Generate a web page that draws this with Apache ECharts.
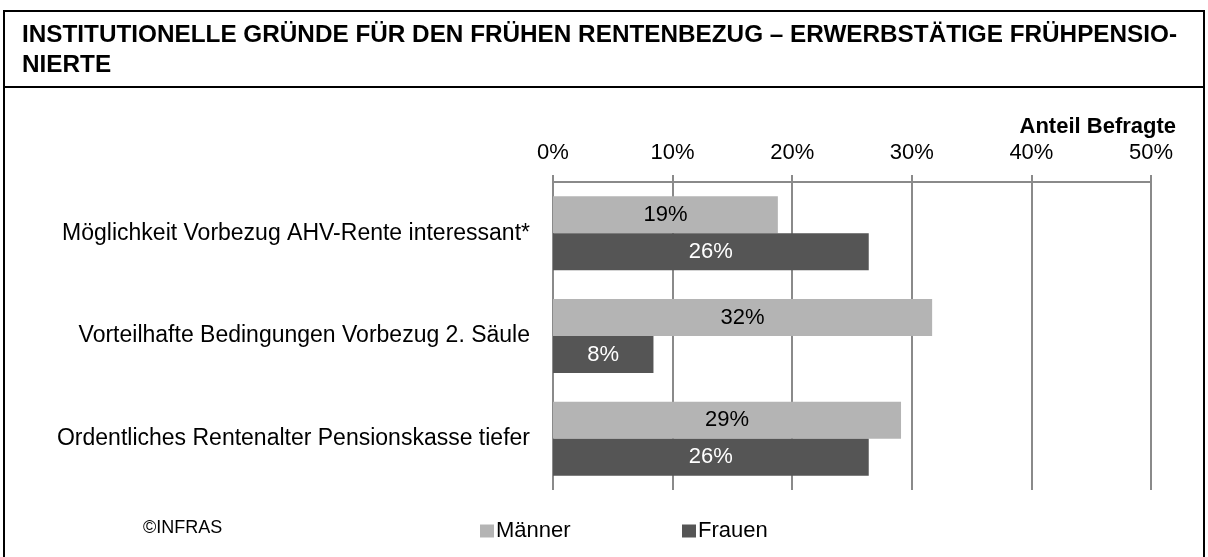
<!DOCTYPE html>
<html><head><meta charset="utf-8">
<script src="https://cdn.jsdelivr.net/npm/echarts@6/dist/echarts.min.js"></script>
<style>html,body{margin:0;padding:0;background:#fff}#c{width:1208px;height:557px}</style>
</head><body><div id="c"></div>
<script>
const categories = ['Möglichkeit Vorbezug AHV-Rente interessant*', 'Vorteilhafte Bedingungen Vorbezug 2. Säule', 'Ordentliches Rentenalter Pensionskasse tiefer'];
const maenner = [18.8, 31.7, 29.1];
const frauen = [26.4, 8.4, 26.4];
const seriesNames = ['Männer', 'Frauen'];
const titleLines = ['INSTITUTIONELLE GRÜNDE FÜR DEN FRÜHEN RENTENBEZUG – ERWERBSTÄTIGE FRÜHPENSIO-', 'NIERTE'];
const axisName = 'Anteil Befragte';
const source = '©INFRAS';

const font = 'Liberation Sans, Arial, sans-serif';
const chart = echarts.init(document.getElementById('c'));
chart.setOption({
  animation: false,
  textStyle: {fontFamily: font},
  graphic: [
    {type: 'rect', shape: {x: 4, y: 11, width: 1200, height: 560}, style: {fill: 'none', stroke: '#000', lineWidth: 2}, silent: true},
    {type: 'line', shape: {x1: 4, y1: 87, x2: 1204, y2: 87}, style: {stroke: '#000', lineWidth: 2}},
    {type: 'text', x: 22, y: 35, style: {text: titleLines[0], font: 'bold 24.3px ' + font, fill: '#000', verticalAlign: 'middle'}},
    {type: 'text', x: 22, y: 65, style: {text: titleLines[1], font: 'bold 24.3px ' + font, fill: '#000', verticalAlign: 'middle'}},
    {type: 'text', x: 143, y: 528, style: {text: source, font: '18px ' + font, fill: '#000', verticalAlign: 'middle'}},
    {type: 'text', x: 1176, y: 127, style: {text: axisName, font: 'bold 22px ' + font, fill: '#000', align: 'right', verticalAlign: 'middle'}}
  ],
  legend: [
    {data: [seriesNames[0]], left: 475, top: 515, itemWidth: 14, itemHeight: 13, icon: 'rect', itemGap: 4, textStyle: {fontSize: 22, color: '#000', padding: [0, 0, 0, -3]}},
    {data: [seriesNames[1]], left: 677, top: 515, itemWidth: 14, itemHeight: 13, icon: 'rect', itemGap: 4, textStyle: {fontSize: 22, color: '#000', padding: [0, 0, 0, -3]}}
  ],
  grid: {left: 553, right: 57, top: 182, bottom: 67},
  xAxis: {
    type: 'value', position: 'top', min: 0, max: 50, interval: 10,
    axisLine: {show: true, lineStyle: {color: '#8a8a8a', width: 2}},
    axisTick: {show: true, length: 7, lineStyle: {color: '#8a8a8a', width: 2}},
    axisLabel: {formatter: '{value}%', fontSize: 22, color: '#000', margin: 18},
    splitLine: {show: true, lineStyle: {color: '#8a8a8a', width: 2}}
  },
  yAxis: {
    type: 'category', data: categories, inverse: true,
    axisLine: {show: false}, axisTick: {show: false},
    axisLabel: {fontSize: 23, color: '#000', margin: 23}
  },
  series: [
    {name: seriesNames[0], type: 'bar', data: maenner, barGap: '0%', barCategoryGap: '28%',
     itemStyle: {color: '#b4b4b4'},
     label: {show: true, position: 'inside', formatter: p => Math.round(p.value) + '%', fontSize: 22, color: '#000'}},
    {name: seriesNames[1], type: 'bar', data: frauen,
     itemStyle: {color: '#555555'},
     label: {show: true, position: 'inside', formatter: p => Math.round(p.value) + '%', fontSize: 22, color: '#fff'}}
  ]
});
</script></body></html>
